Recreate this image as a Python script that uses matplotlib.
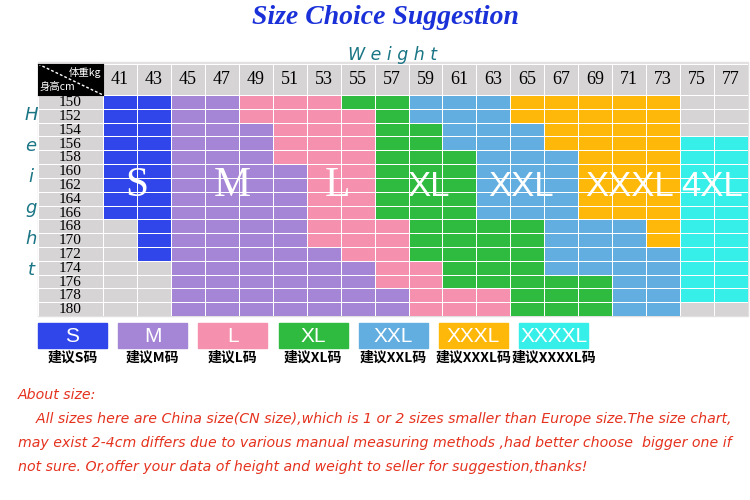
import numpy as np
import matplotlib.pyplot as plt
from matplotlib.colors import ListedColormap
from matplotlib.patches import Rectangle

weights = [41, 43, 45, 47, 49, 51, 53, 55, 57, 59, 61, 63, 65, 67, 69, 71, 73, 75, 77]
heights = [150, 152, 154, 156, 158, 160, 162, 164, 166, 168, 170, 172, 174, 176, 178, 180]

# 0 = no suggestion, 1..7 = S, M, L, XL, XXL, XXXL, XXXXL
grid = [
    [1, 1, 2, 2, 3, 3, 3, 4, 4, 5, 5, 5, 6, 6, 6, 6, 6, 0, 0],
    [1, 1, 2, 2, 3, 3, 3, 3, 4, 5, 5, 5, 6, 6, 6, 6, 6, 0, 0],
    [1, 1, 2, 2, 2, 3, 3, 3, 4, 4, 5, 5, 5, 6, 6, 6, 6, 0, 0],
    [1, 1, 2, 2, 2, 3, 3, 3, 4, 4, 5, 5, 5, 6, 6, 6, 6, 7, 7],
    [1, 1, 2, 2, 2, 3, 3, 3, 4, 4, 4, 5, 5, 5, 6, 6, 6, 7, 7],
    [1, 1, 2, 2, 2, 2, 3, 3, 4, 4, 4, 5, 5, 5, 6, 6, 6, 7, 7],
    [1, 1, 2, 2, 2, 2, 3, 3, 4, 4, 4, 5, 5, 5, 6, 6, 6, 7, 7],
    [1, 1, 2, 2, 2, 2, 3, 3, 4, 4, 4, 5, 5, 5, 6, 6, 6, 7, 7],
    [1, 1, 2, 2, 2, 2, 3, 3, 4, 4, 4, 5, 5, 5, 6, 6, 6, 7, 7],
    [0, 1, 2, 2, 2, 2, 3, 3, 3, 4, 4, 4, 4, 5, 5, 5, 6, 7, 7],
    [0, 1, 2, 2, 2, 2, 3, 3, 3, 4, 4, 4, 4, 5, 5, 5, 6, 7, 7],
    [0, 1, 2, 2, 2, 2, 2, 3, 3, 4, 4, 4, 4, 5, 5, 5, 5, 7, 7],
    [0, 0, 2, 2, 2, 2, 2, 2, 3, 3, 4, 4, 4, 5, 5, 5, 5, 7, 7],
    [0, 0, 2, 2, 2, 2, 2, 2, 3, 3, 4, 4, 4, 4, 4, 5, 5, 7, 7],
    [0, 0, 2, 2, 2, 2, 2, 2, 2, 3, 3, 3, 4, 4, 4, 5, 5, 7, 7],
    [0, 0, 2, 2, 2, 2, 2, 2, 2, 3, 3, 3, 4, 4, 4, 5, 5, 0, 0],
]

sizes = ["S", "M", "L", "XL", "XXL", "XXXL", "XXXXL"]
sizes_cn = ["建议S码", "建议M码", "建议L码", "建议XL码", "建议XXL码", "建议XXXL码", "建议XXXXL码"]
area_labels = ["S", "M", "L", "XL", "XXL", "XXXL", "4XL"]
area_cols = [1.0, 3.8, 6.9, 9.6, 12.3, 15.5, 17.95]

colors = ["#d6d4d4", "#3146ea", "#a585d5", "#f591ae", "#2fbb40", "#62aee0", "#fdb80a", "#36efe9"]
gray = colors[0]
teal = "#1a7585"
red = "#e5321e"

W, H = 750, 500


def box(x0, y0, x1, y1):
    return [x0 / W, 1 - y1 / H, (x1 - x0) / W, (y1 - y0) / H]


fig = plt.figure(figsize=(7.5, 5), dpi=100)
ax = fig.add_axes([0, 0, 1, 1])
ax.set_xlim(0, W)
ax.set_ylim(H, 0)
ax.axis("off")

ax.text(385, 17, "Size Choice Suggestion", ha="center", va="center", color="#1a30d8",
        fontsize=20, fontweight="bold", fontstyle="italic", family="Liberation Serif")
ax.text(393, 55, "W e i g h t", ha="center", va="center", color=teal,
        fontsize=12.5, fontstyle="italic", family="DejaVu Sans")
for i, ch in enumerate("Height"):
    ax.text(31, 115 + i * 31, ch, ha="center", va="center", color=teal,
            fontsize=13, fontstyle="italic", family="DejaVu Sans")

# table background
ax.add_patch(Rectangle((38, 62), 710, 254, color="#e2e0e0", zorder=0))

cmap = ListedColormap(colors)

# main grid
axg = fig.add_axes(box(103, 95, 748, 316))
axg.pcolormesh(np.array(grid), cmap=cmap, vmin=-0.5, vmax=7.5, edgecolors="white", linewidth=0.7)
axg.set_xlim(0, len(weights))
axg.set_ylim(len(heights), 0)
axg.axis("off")
for lab, c in zip(area_labels, area_cols):
    if lab in ("S", "M", "L"):
        axg.text(c, 6.6, lab, ha="center", va="center", color="white", fontsize=30,
                 family="Liberation Serif")
    else:
        axg.text(c, 6.6, lab, ha="center", va="center", color="white", fontsize=25,
                 family="Liberation Sans")

# weight header
axh = fig.add_axes(box(103, 64, 748, 95))
axh.pcolormesh(np.zeros((1, len(weights))), cmap=ListedColormap([gray]), edgecolors="white", linewidth=0.7)
axh.set_xlim(0, len(weights))
axh.set_ylim(1, 0)
axh.axis("off")
for i, w in enumerate(weights):
    axh.text(i + 0.5, 0.5, str(w), ha="center", va="center", fontsize=13, family="Liberation Serif")

# height column
axr = fig.add_axes(box(38, 95, 103, 316))
axr.pcolormesh(np.zeros((len(heights), 1)), cmap=ListedColormap([gray]), edgecolors="white", linewidth=0.7)
axr.set_xlim(0, 1)
axr.set_ylim(len(heights), 0)
axr.axis("off")
for j, h in enumerate(heights):
    axr.text(0.5, j + 0.55, str(h), ha="center", va="center", fontsize=11, family="Liberation Serif")

# corner cell
axc = fig.add_axes(box(38, 64, 103, 95))
axc.set_facecolor("black")
axc.set_xticks([])
axc.set_yticks([])
axc.plot([0, 1], [1, 0], color="white", linestyle=(0, (2, 1.5)), linewidth=1)
axc.set_xlim(0, 1)
axc.set_ylim(0, 1)
axc.text(0.97, 0.72, "体重kg", ha="right", va="center", color="white", fontsize=7.5,
         family=["Noto Sans CJK SC", "DejaVu Sans"])
axc.text(0.03, 0.28, "身高cm", ha="left", va="center", color="white", fontsize=7.5,
         family=["Noto Sans CJK SC", "DejaVu Sans"])

# legend
for k, (s, cn) in enumerate(zip(sizes, sizes_cn)):
    x0 = 38 + k * 80.2
    ax.add_patch(Rectangle((x0, 323), 69, 25, color=colors[k + 1]))
    ax.text(x0 + 34.5, 336, s, ha="center", va="center", color="white", fontsize=15,
            family="Liberation Sans")
    ax.text(x0 + 34.5, 358, cn, ha="center", va="center", color="black", fontsize=10,
            fontweight="bold", family=["Noto Sans CJK SC", "DejaVu Sans"])

# notes
notes = [
    "About size:",
    "    All sizes here are China size(CN size),which is 1 or 2 sizes smaller than Europe size.The size chart,",
    "may exist 2-4cm differs due to various manual measuring methods ,had better choose  bigger one if",
    "not sure. Or,offer your data of height and weight to seller for suggestion,thanks!",
]
for i, line in enumerate(notes):
    ax.text(18, 395 + i * 24, line, ha="left", va="center", color=red, fontsize=10.2,
            fontstyle="italic", family="DejaVu Sans")

fig.savefig("out.png", dpi=100)
